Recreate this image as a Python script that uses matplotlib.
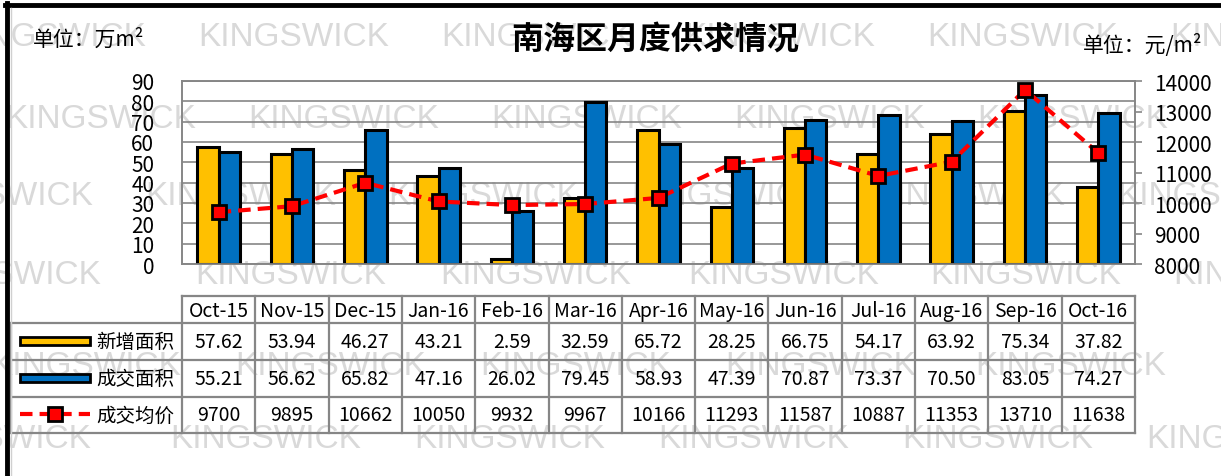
import matplotlib
matplotlib.use("Agg")
import matplotlib.pyplot as plt
from matplotlib.lines import Line2D
from matplotlib.patches import Rectangle

plt.rcParams['font.family'] = ['Noto Sans CJK SC', 'DejaVu Sans']

# ---------------- data ----------------
months = ['Oct-15', 'Nov-15', 'Dec-15', 'Jan-16', 'Feb-16', 'Mar-16', 'Apr-16',
          'May-16', 'Jun-16', 'Jul-16', 'Aug-16', 'Sep-16', 'Oct-16']
new_area = [57.62, 53.94, 46.27, 43.21, 2.59, 32.59, 65.72, 28.25, 66.75, 54.17, 63.92, 75.34, 37.82]
deal_area = [55.21, 56.62, 65.82, 47.16, 26.02, 79.45, 58.93, 47.39, 70.87, 73.37, 70.50, 83.05, 74.27]
avg_price = [9700, 9895, 10662, 10050, 9932, 9967, 10166, 11293, 11587, 10887, 11353, 13710, 11638]
series_names = ['新增面积', '成交面积', '成交均价']
left_ticks = [0, 10, 20, 30, 40, 50, 60, 70, 80, 90]
right_ticks = [8000, 9000, 10000, 11000, 12000, 13000, 14000]

YELLOW = '#FFC000'
BLUE = '#0070C0'
GRID = '#868686'

W, H = 1221, 477
fig = plt.figure(figsize=(W / 100, H / 100), dpi=100)


def fx(px):
    return px / W


def fy(py):
    return 1 - py / H


# ---------------- watermark ----------------
wm_rows = [
    (38, [-45, 198, 441, 684, 927, 1170]),
    (120, [5, 248, 491, 734, 977, 1220]),
    (197, [-98, 145, 388, 631, 874, 1117]),
    (276, [-90, 195, 440, 688, 930, 1173]),
    (367, [-10, 235, 480, 725, 975]),
    (440, [-100, 170, 414, 658, 902, 1146]),
]
for yy, xs in wm_rows:
    for xx in xs:
        fig.text(fx(xx), fy(yy), 'KINGSWICK', fontsize=24, color='#d9d9d9',
                 family=['Liberation Sans', 'DejaVu Sans'], ha='left', va='center',
                 zorder=-5)

# ---------------- frame lines ----------------
fig.add_artist(Line2D([fx(7), fx(7)], [fy(4), 0], color='black', lw=3.5))
fig.add_artist(Line2D([fx(5), 1], [fy(6), fy(6)], color='black', lw=3.5))
fig.add_artist(Line2D([fx(11), fx(11)], [fy(9), 0], color='#d0d0d0', lw=1))

# ---------------- main axes ----------------
PL, PR, PT, PB = 182, 1135, 82, 265
ax = fig.add_axes([fx(PL), fy(PB), fx(PR - PL), (PB - PT) / H])
ax.set_facecolor('none')
x = list(range(len(months)))
bw = 0.29
ax.bar([i - 0.145 for i in x], new_area, width=bw, color=YELLOW,
       edgecolor='black', linewidth=2.2, zorder=3)
ax.bar([i + 0.145 for i in x], deal_area, width=bw, color=BLUE,
       edgecolor='black', linewidth=2.2, zorder=3)
ax.set_xlim(-0.5, len(months) - 0.5)
ax.set_ylim(0, 90)
ax.set_yticks(left_ticks)
ax.set_yticklabels([str(t) for t in left_ticks], fontsize=15)
ax.tick_params(axis='y', length=0, pad=20)
ax.set_xticks([])
ax.yaxis.grid(True, color=GRID, lw=1.2, zorder=0)
ax.set_axisbelow(True)
for s in ax.spines.values():
    s.set_color(GRID)
    s.set_linewidth(1.2)

ax2 = ax.twinx()
ax2.plot(x, avg_price, color='#FF0000', lw=3, dashes=(3, 1.7),
         marker='s', markersize=10, markerfacecolor='#FF0000',
         markeredgecolor='black', markeredgewidth=2, zorder=5)
ax2.set_ylim(8000, 14000)
ax2.set_yticks(right_ticks)
ax2.set_yticklabels([str(t) for t in right_ticks], fontsize=15)
ax2.tick_params(axis='y', length=5, width=1.2, color=GRID, pad=9)
for s in ax2.spines.values():
    s.set_color(GRID)
    s.set_linewidth(1.2)

# ---------------- titles ----------------
fig.text(fx(655), fy(40), '南海区月度供求情况', fontsize=23, fontweight='bold',
         ha='center', va='center')
fig.text(fx(33), fy(40), '单位：万m²', fontsize=15, ha='left', va='center')
fig.text(fx(1083), fy(45), '单位：元/m²', fontsize=15, ha='left', va='center')

# ---------------- data table ----------------
TL, TT, TB = 11, 297, 434
rows_y = [297, 324, 361, 398, 434]
unit = (PR - PL) / len(months)
xmin = -0.5 - (PL - TL) / unit
tab = fig.add_axes([fx(TL), fy(TB), fx(PR - TL), (TB - TT) / H])
tab.set_xlim(xmin, len(months) - 0.5)
tab.set_ylim(TB, TT)
tab.axis('off')
tab.set_facecolor('none')

lc = GRID
lw = 1.6
# horizontal lines
tab.plot([-0.5, len(months) - 0.5], [rows_y[0]] * 2, color=lc, lw=lw, clip_on=False)
for yy in rows_y[1:]:
    tab.plot([xmin, len(months) - 0.5], [yy, yy], color=lc, lw=lw, clip_on=False)
# vertical lines
tab.plot([xmin, xmin], [rows_y[1], rows_y[-1]], color=lc, lw=lw, clip_on=False)
for i in range(len(months) + 1):
    tab.plot([i - 0.5, i - 0.5], [rows_y[0], rows_y[-1]], color=lc, lw=lw, clip_on=False)

fs = 14
for i, m in enumerate(months):
    tab.text(i, (rows_y[0] + rows_y[1]) / 2 + 1, m, fontsize=fs, ha='center', va='center')
    tab.text(i, (rows_y[1] + rows_y[2]) / 2, f'{new_area[i]:.2f}', fontsize=fs,
             ha='center', va='center')
    tab.text(i, (rows_y[2] + rows_y[3]) / 2, f'{deal_area[i]:.2f}', fontsize=fs,
             ha='center', va='center')
    tab.text(i, (rows_y[3] + rows_y[4]) / 2, f'{avg_price[i]:d}', fontsize=fs,
             ha='center', va='center')

# legend keys
kx0 = xmin + (20 - TL) / unit
kx1 = xmin + (90 - TL) / unit
lx = xmin + (96 - TL) / unit
for r, (col, name) in enumerate(zip([YELLOW, BLUE], series_names[:2])):
    yc = (rows_y[r + 1] + rows_y[r + 2]) / 2 - 1
    tab.add_patch(Rectangle((kx0, yc - 4), kx1 - kx0, 8, facecolor=col,
                            edgecolor='black', lw=2, clip_on=False))
    tab.text(lx, yc + 1, name, fontsize=14, ha='left', va='center')
yc = (rows_y[3] + rows_y[4]) / 2 - 1
tab.plot([kx0, kx1], [yc, yc], color='#FF0000', lw=3, dashes=(3, 1.7), clip_on=False)
tab.plot([(kx0 + kx1) / 2], [yc], marker='s', markersize=10, color='#FF0000',
         markeredgecolor='black', markeredgewidth=2, clip_on=False)
tab.text(lx, yc + 1, series_names[2], fontsize=14, ha='left', va='center')

fig.savefig('out.png', dpi=100)
